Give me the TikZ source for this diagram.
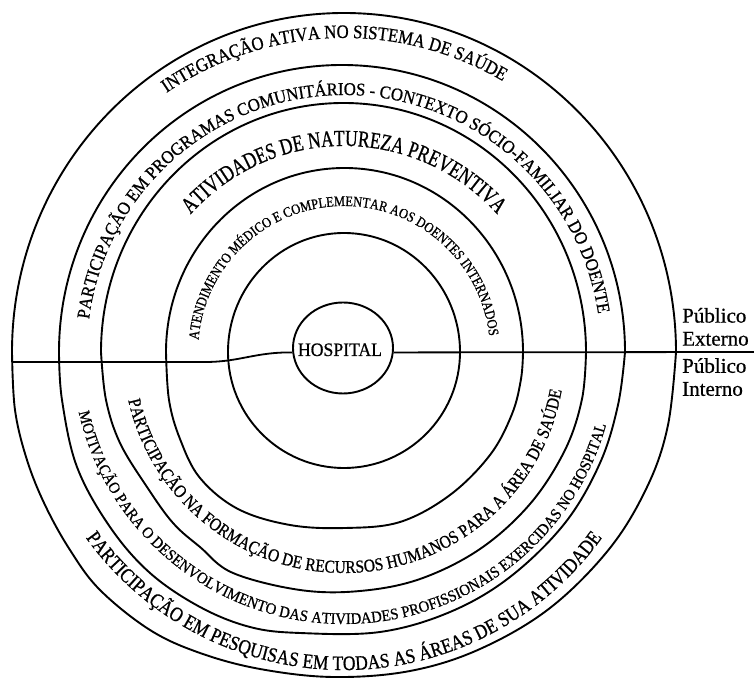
\documentclass[tikz,border=0pt]{standalone}
\usepackage{fontspec}
\setmainfont{Liberation Serif}[FakeBold=0.6]
% narrow cuts of the serif face for the curved captions
\newfontfamily\fIntegra{Liberation Serif}[FakeStretch=0.88,FakeBold=0.8]
\newfontfamily\fProg{Liberation Serif}[FakeStretch=0.93,FakeBold=0.8]
\newfontfamily\fPrev{Liberation Serif}[FakeStretch=0.76,FakeBold=0.8]
\newfontfamily\fAtend{Liberation Serif}[FakeStretch=0.86,FakeBold=0.8]
\newfontfamily\fPesq{Liberation Serif}[FakeStretch=0.85,FakeBold=0.8]
\newfontfamily\fMotiv{Liberation Serif}[FakeStretch=0.92,FakeBold=0.8]
\newfontfamily\fForm{Liberation Serif}[FakeStretch=0.86,FakeBold=0.8]
\newfontfamily\fHosp{Liberation Serif}[FakeStretch=0.93,FakeBold=0.6]
\usetikzlibrary{decorations.text,shapes.geometric}
\begin{document}
\begin{tikzpicture}[x=1pt,y=1pt,
  ring/.style={line width=1.9pt,line join=round},
  divider/.style={line width=1.8pt},
  bandtext/.style={decorate,decoration={text along path,text align=center,#1}},
  sidelabel/.style={inner sep=0pt,align=left,font=\fontsize{21}{23}\selectfont},
]
\useasboundingbox (0,0) rectangle (754,679);
\coordinate (C) at (344,327);

% concentric rings: round upper halves, hand-drawn lower halves
\draw[ring] (676,327) arc[start angle=0,end angle=180,x radius=332,y radius=339]
  -- plot[smooth,tension=0.6] coordinates {(12,327) (15,269) (27,219) (45,174) (70,129)
     (100,89) (150,49) (200,26) (260,10) (333,2) (410,8) (480,30) (550,71) (610,131)
     (648,194) (668,254) (676,327)} -- cycle;
\draw[ring] (625,327) arc[start angle=0,end angle=180,x radius=283,y radius=287]
  -- plot[smooth,tension=0.6] coordinates {(59,327) (62,279) (77,212) (110,152) (150,106)
     (200,72) (250,52) (300,46) (380,47) (450,67) (510,102) (565,156) (600,216)
     (618,274) (625,327)} -- cycle;
\draw[ring] (586,327) arc[start angle=0,end angle=180,x radius=242.5,y radius=249]
  -- plot[smooth,tension=0.6] coordinates {(101,327) (106,279) (120,236) (147,192)
     (173,156) (200,132) (233,106) (300,89) (360,88) (420,100) (480,130) (530,175)
     (565,229) (582,280) (586,327)} -- cycle;
\draw[ring] (523,327) arc[start angle=0,end angle=180,x radius=178.5,y radius=184]
  -- plot[smooth,tension=0.6] coordinates {(166,327) (169,279) (180,240) (200,201)
     (238,170) (290,154) (345,151) (400,157) (450,184) (490,224) (512,265) (521,300)
     (523,327)} -- cycle;
\draw[ring] (C) ++(116,0) arc[start angle=0,end angle=180,x radius=116,y radius=119]
  arc[start angle=180,end angle=360,x radius=116,y radius=116] -- cycle;

% hospital at the core
\node[ring,draw,ellipse,minimum width=100pt,minimum height=91pt,inner sep=0pt] (hosp) at (343,331) {};
\node[inner sep=0pt,anchor=base,font=\fHosp\fontsize{19}{19}\selectfont] (hosplabel) at (340,323) {HOSPITAL};

% dividing line between external and internal public
\coordinate (lineL) at (12,317);
\coordinate (kink) at (205,317);
\coordinate (lineR) at (754,327);
\draw[divider] (lineL) -- (kink) .. controls (240,317) and (255,327) .. (hosp.185);
\draw[divider] (hosp.-5) -- (lineR);

\node[sidelabel,anchor=south west] (ext) at (682,333) {Público\\Externo};
\node[sidelabel,anchor=north west] (int) at (682,321) {Público\\Interno};

% captions of the upper bands
\path[bandtext={text={|\fIntegra\fontsize{19}{19}\selectfont|INTEGRAÇÃO ATIVA NO SISTEMA DE SAÚDE}}]
  (C) ++(152:314) arc[start angle=152,end angle=32,radius=314];
\path[bandtext={text={|\fProg\fontsize{18}{18}\selectfont|PARTICIPAÇÃO EM PROGRAMAS COMUNITÁRIOS - CONTEXTO SÓCIO-FAMILIAR DO DOENTE}}]
  (C) ++(185.6:257) arc[start angle=185.6,end angle=-4.4,radius=257];
\path[bandtext={text={|\fPrev\fontsize{23}{23}\selectfont|ATIVIDADES DE NATUREZA PREVENTIVA}}]
  (C) ++(170:206) arc[start angle=170,end angle=10,radius=206];
\path[bandtext={text={|\fAtend\fontsize{14.5}{14.5}\selectfont|ATENDIMENTO MÉDICO E COMPLEMENTAR AOS DOENTES INTERNADOS}}]
  (C) ++(185.75:146) arc[start angle=185.75,end angle=-4.25,radius=146];

% captions of the lower bands
\path[bandtext={text={|\fPesq\fontsize{20.5}{20.5}\selectfont|PARTICIPAÇÃO EM PESQUISAS EM TODAS AS ÁREAS DE SUA ATIVIDADE}}]
  (C) ++(200:318) arc[start angle=200,end angle=340,radius=318];
\path[bandtext={text={|\fMotiv\fontsize{16}{16}\selectfont|MOTIVAÇÃO PARA O DESENVOLVIMENTO DAS ATIVIDADES PROFISSIONAIS EXERCIDAS NO HOSPITAL}}]
  (C) ++(183.6:272) arc[start angle=183.6,end angle=353.6,radius=272];
\path[bandtext={text={|\fForm\fontsize{18}{18}\selectfont|PARTICIPAÇÃO NA FORMAÇÃO DE RECURSOS HUMANOS PARA A ÁREA DE SAÚDE}}]
  (C) ++(181.3:221) arc[start angle=181.3,end angle=361.3,radius=221];
\end{tikzpicture}
\end{document}
